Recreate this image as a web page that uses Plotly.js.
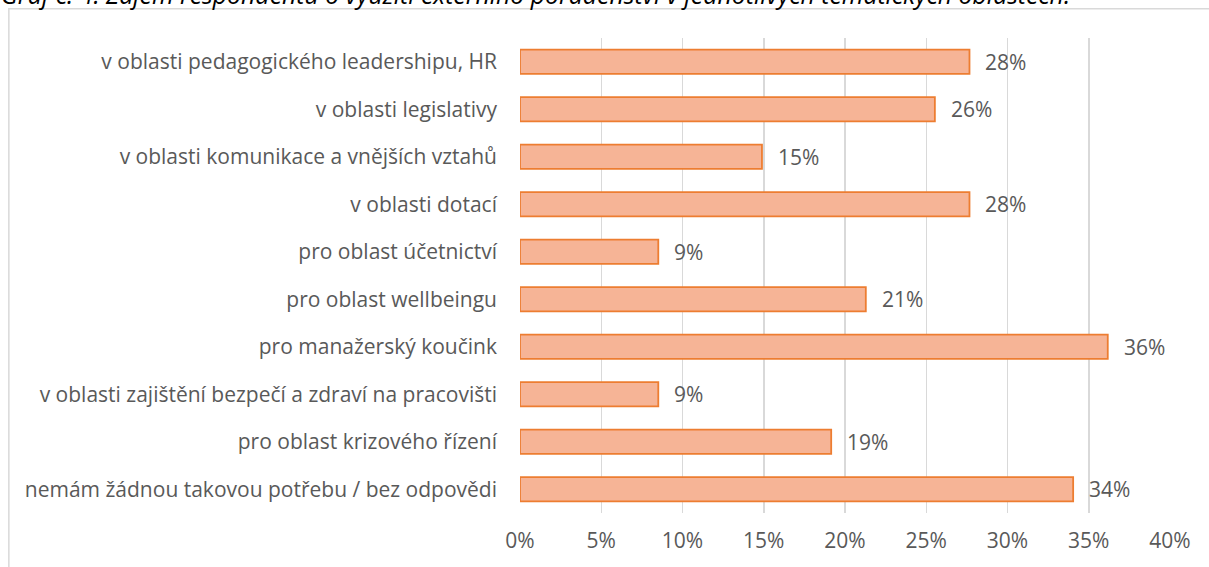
<!DOCTYPE html>
<html>
<head>
<meta charset="utf-8">
<script src="https://cdn.plot.ly/plotly-3.0.1.min.js"></script>
<style>html,body{margin:0;padding:0;background:#fff;}#chart{width:1209px;height:567px;}</style>
</head>
<body>
<div id="chart"></div>
<script>
const categories = [
  "v oblasti pedagogického leadershipu, HR",
  "v oblasti legislativy",
  "v oblasti komunikace a vnějších vztahů",
  "v oblasti dotací",
  "pro oblast účetnictví",
  "pro oblast wellbeingu",
  "pro manažerský koučink",
  "v oblasti zajištění bezpečí a zdraví na pracovišti",
  "pro oblast krizového řízení",
  "nemám žádnou takovou potřebu / bez odpovědi"
];
const values = [27.66, 25.53, 14.89, 27.66, 8.51, 21.28, 36.17, 8.51, 19.15, 34.04];
const valueLabels = ["28%", "26%", "15%", "28%", "9%", "21%", "36%", "9%", "19%", "34%"];
const tickValues = [0, 5, 10, 15, 20, 25, 30, 35, 40];
const tickLabels = ["0%", "5%", "10%", "15%", "20%", "25%", "30%", "35%", "40%"];
const titleText = "Graf č. 4: Zájem respondentů o využití externího poradenství v jednotlivých tematických oblastech.";

const FONT = "Open Sans, Noto Sans, sans-serif";
const GREY = "#595959";
const FS = 21;

const trace = {
  type: "bar",
  orientation: "h",
  x: values,
  y: categories,
  marker: { color: "#F6B496", line: { color: "#ED7D31", width: 1.8 } },
  hoverinfo: "skip"
};

const annotations = categories.map((c, i) => ({
  x: values[i], y: c, xref: "x", yref: "y",
  text: valueLabels[i], showarrow: false,
  xanchor: "left", yanchor: "middle", xshift: 14,
  font: { family: FONT, size: FS, color: GREY }
}));
annotations.push({
  x: -0.801, y: 1.093, xref: "paper", yref: "paper",
  xanchor: "left", yanchor: "middle", showarrow: false,
  text: "<i>" + titleText + "</i>",
  font: { family: FONT, size: 24.8, color: "#000" }
});

const layout = {
  width: 1209, height: 567,
  margin: { l: 520, r: 39.4, t: 37.75, b: 54.25, pad: 0 },
  paper_bgcolor: "#fff", plot_bgcolor: "#fff",
  bargap: 0.49,
  showlegend: false,
  font: { family: FONT, size: FS, color: GREY },
  xaxis: {
    range: [0, 40], tickvals: tickValues, ticktext: tickLabels,
    showgrid: true, gridcolor: "#D9D9D9", gridwidth: 1.5,
    zeroline: false, showline: false, ticks: "",
    ticklabelstandoff: 13,
    tickfont: { family: FONT, size: FS, color: GREY },
    fixedrange: true
  },
  yaxis: {
    autorange: "reversed", type: "category",
    showgrid: false, zeroline: false, showline: false, ticks: "",
    ticklabelstandoff: 22,
    tickfont: { family: FONT, size: FS, color: GREY },
    fixedrange: true
  },
  annotations: annotations,
  shapes: [{
    type: "rect", xref: "paper", yref: "paper",
    x0: -0.7864, x1: 1.2, y0: -0.3, y1: 1.0616,
    line: { color: "#D9D9D9", width: 1.5 }, fillcolor: "rgba(0,0,0,0)", layer: "below"
  }]
};

Plotly.newPlot("chart", [trace], layout, { displayModeBar: false, staticPlot: true });
</script>
</body>
</html>
